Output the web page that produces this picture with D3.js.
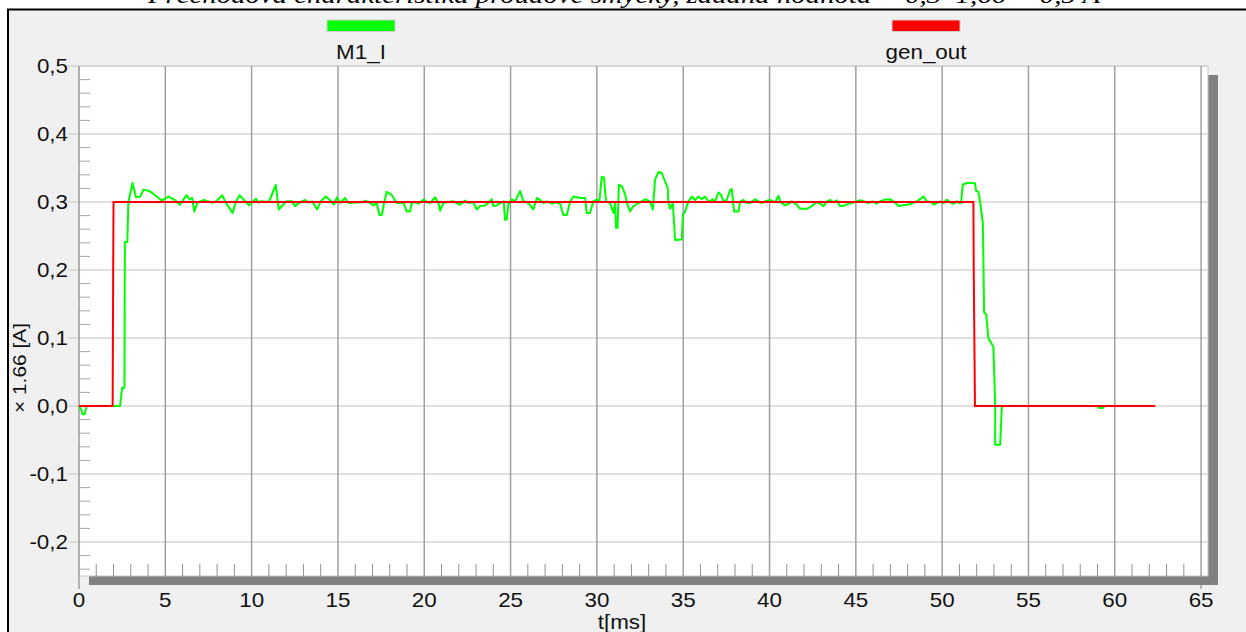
<!DOCTYPE html>
<html>
<head>
<meta charset="utf-8">
<script src="https://cdn.jsdelivr.net/npm/d3@7/dist/d3.min.js"></script>
<style>
  html, body { margin: 0; padding: 0; background: #ffffff; }
  svg { display: block; }
  text { font-family: "Liberation Sans", Arial, sans-serif; fill: #111; }
</style>
</head>
<body>
<svg id="chart" width="1246" height="632"></svg>
<script>
// Step response of the current loop: measured current M1_I and generator reference gen_out
const titleText = "Přechodová charakteristika proudové smyčky, žádaná hodnota = 0,3*1,66 = 0,5 A";
const seriesNames = ["M1_I", "gen_out"];
const seriesColors = ["#00ff00", "#ff0000"];

// time [ms]
const m1Time = [0,0.12,0.2,0.32,0.45,2.38,2.5,2.63,2.66,2.8,2.86,3.1,3.3,3.55,3.73,4.1,4.5,4.8,5.17,5.55,5.84,6.22,6.4,6.55,6.68,6.86,7.25,7.45,7.7,7.95,8.3,8.5,8.9,9.1,9.3,9.55,9.85,10.25,10.4,10.55,11.0,11.4,11.57,12.0,12.33,12.5,12.9,13.1,13.3,13.5,13.8,14.0,14.3,14.6,14.76,14.95,15.12,15.41,15.6,16.38,16.57,16.86,17.05,17.25,17.4,17.55,17.65,17.82,18.1,18.4,18.8,18.99,19.18,19.27,19.47,19.66,19.95,20.15,20.34,20.63,20.82,20.92,21.1,21.3,21.69,21.88,22.07,22.36,22.55,22.84,23.04,23.23,23.52,23.71,23.91,24.0,24.2,24.4,24.6,24.68,24.78,24.87,25.07,25.26,25.55,25.74,26.03,26.32,26.52,26.71,26.9,27.1,27.4,27.58,27.87,28.06,28.26,28.45,28.64,29.03,29.32,29.41,29.6,29.8,29.99,30.14,30.28,30.41,30.53,30.76,30.96,31.05,31.11,31.2,31.27,31.45,31.64,31.74,31.92,32.12,32.41,32.6,32.8,33.08,33.24,33.37,33.56,33.75,33.95,34.1,34.14,34.24,34.4,34.53,34.92,34.98,35.11,35.3,35.5,35.69,35.88,36.07,36.27,36.46,36.56,36.71,36.85,37.04,37.18,37.33,37.52,37.72,37.81,37.95,38.2,38.3,38.49,38.68,38.88,39.16,39.36,39.55,39.74,40.03,40.32,40.52,40.65,40.9,41.19,41.29,41.58,41.77,42.16,42.45,42.64,42.84,43.13,43.32,43.52,43.71,43.9,44.09,44.38,44.57,44.77,45.06,45.25,45.44,45.73,45.98,46.21,46.41,46.7,46.99,47.18,47.47,47.66,47.95,48.24,48.53,48.92,49.11,49.4,49.5,49.69,49.88,50.08,50.27,50.46,50.66,50.85,50.99,51.1,51.19,51.42,51.67,51.9,51.97,52.1,52.2,52.36,52.43,52.55,52.68,52.82,52.97,53.07,53.07,53.36,53.46,59.0,59.1,59.3,59.4,62.34];
// measured current (scaled by 1.66 on the axis)
const m1Current = [0,-0.005,-0.012,-0.012,0,0,0.027,0.027,0.241,0.241,0.3,0.328,0.307,0.308,0.318,0.316,0.308,0.302,0.308,0.303,0.296,0.31,0.304,0.306,0.286,0.299,0.303,0.301,0.299,0.301,0.31,0.299,0.284,0.301,0.31,0.303,0.295,0.305,0.299,0.301,0.3,0.325,0.289,0.301,0.301,0.294,0.301,0.303,0.299,0.301,0.289,0.301,0.308,0.301,0.296,0.307,0.2985,0.306,0.2985,0.2995,0.302,0.2985,0.295,0.2985,0.281,0.281,0.296,0.315,0.311,0.2985,0.2985,0.286,0.286,0.2985,0.3,0.2975,0.3035,0.3,0.2985,0.307,0.2985,0.287,0.2985,0.2995,0.301,0.2985,0.296,0.302,0.2985,0.2995,0.289,0.294,0.295,0.2985,0.304,0.294,0.295,0.2985,0.301,0.274,0.274,0.296,0.304,0.301,0.316,0.301,0.2985,0.289,0.306,0.303,0.2985,0.301,0.2975,0.2995,0.2975,0.281,0.281,0.301,0.308,0.306,0.306,0.284,0.284,0.301,0.3035,0.301,0.337,0.336,0.301,0.2985,0.284,0.2985,0.262,0.262,0.3255,0.323,0.311,0.2985,0.286,0.294,0.2985,0.301,0.304,0.301,0.289,0.333,0.344,0.343,0.33,0.321,0.3,0.29,0.2985,0.244,0.245,0.281,0.286,0.301,0.308,0.303,0.308,0.304,0.308,0.301,0.301,0.304,0.301,0.314,0.311,0.301,0.303,0.318,0.319,0.286,0.286,0.301,0.303,0.2985,0.2985,0.304,0.301,0.2985,0.301,0.303,0.2995,0.309,0.2995,0.295,0.2985,0.301,0.296,0.29,0.29,0.294,0.2985,0.2995,0.294,0.301,0.303,0.2995,0.3025,0.294,0.295,0.2975,0.2985,0.301,0.3025,0.301,0.2985,0.301,0.2975,0.301,0.3035,0.304,0.301,0.294,0.295,0.296,0.2975,0.301,0.308,0.301,0.2995,0.296,0.2985,0.301,0.2985,0.3035,0.2995,0.2975,0.301,0.2985,0.299,0.3255,0.328,0.328,0.3275,0.316,0.315,0.3,0.268,0.138,0.135,0.099,0.094,0.0865,0.003,-0.057,-0.057,0,0,-0.003,-0.003,0,0];

// generator reference
const genTime = [0,1.95,1.98,2.0,51.81,51.83,51.9,62.34];
const genOut = [0,0,0.2,0.3,0.3,0.2,0,0];

const xMajorTicks = [0,5,10,15,20,25,30,35,40,45,50,55,60,65];
const yMajorTicks = [-0.2,-0.1,0.0,0.1,0.2,0.3,0.4,0.5];
const xLabel = "t[ms]";
const yLabel = "× 1.66 [A]";

const svg = d3.select("#chart");
const W = 1246, H = 632;
const plot = { left: 79, top: 66, right: 1208, bottom: 576 };
const WIDE = 1.12; // horizontal stretch of the UI font

const x = d3.scaleLinear().domain([0, 65.4]).range([plot.left, plot.right]);
const y = d3.scaleLinear().domain([-0.25, 0.5]).range([plot.bottom, plot.top]);
const fmt = v => d3.format(".1f")(v).replace(".", ",").replace("−", "-");
const place = (px, py) => `translate(${px},${py}) scale(${WIDE},1)`;

// title, clipped by the window top
svg.append("text")
  .attr("x", 624).attr("y", 3)
  .attr("text-anchor", "middle")
  .attr("textLength", 952).attr("lengthAdjust", "spacingAndGlyphs")
  .style("font-family", "'Liberation Serif', 'Times New Roman', serif")
  .style("font-style", "italic")
  .style("font-size", "24px")
  .style("fill", "#000")
  .text(titleText);

// window frame
svg.append("rect")
  .attr("x", 8).attr("y", 9.5).attr("width", W).attr("height", H)
  .attr("fill", "#f0f0f0").attr("stroke", "#000").attr("stroke-width", 2);

// legend
const legendX = [361, 926];
seriesNames.forEach((name, i) => {
  svg.append("rect")
    .attr("x", legendX[i] - 34).attr("y", 20).attr("width", 68).attr("height", 11.5)
    .attr("fill", seriesColors[i]).attr("stroke", "#d0d0d0").attr("stroke-width", 1);
  svg.append("text")
    .attr("transform", place(legendX[i], 58.5))
    .attr("text-anchor", "middle")
    .style("font-size", "20px")
    .text(name);
});

// drop shadow behind the plot box
svg.append("rect")
  .attr("x", plot.left + 10).attr("y", plot.top + 9)
  .attr("width", plot.right - plot.left).attr("height", plot.bottom - plot.top)
  .attr("fill", "#808080");

// plot area
svg.append("rect")
  .attr("x", plot.left).attr("y", plot.top)
  .attr("width", plot.right - plot.left).attr("height", plot.bottom - plot.top)
  .attr("fill", "#ffffff").attr("stroke", "#c8c8c8").attr("stroke-width", 1);

const g = svg.append("g");

// horizontal grid (reaching out past the axis as major ticks)
g.selectAll("line.hgrid").data(yMajorTicks).enter().append("line")
  .attr("x1", 68).attr("x2", plot.right)
  .attr("y1", d => y(d)).attr("y2", d => y(d))
  .attr("stroke", "#d4d4d4").attr("stroke-width", 1.5);

// minor y ticks
const yMinor = d3.range(-12, 25).map(i => i * 0.02).filter(v => Math.abs(Math.round(v * 10) - v * 10) > 1e-6);
g.selectAll("line.ymin").data(yMinor).enter().append("line")
  .attr("x1", plot.left).attr("x2", plot.left + 11)
  .attr("y1", d => y(d)).attr("y2", d => y(d))
  .attr("stroke", "#a8a8a8").attr("stroke-width", 1);

// vertical grid
g.selectAll("line.vgrid").data(xMajorTicks.filter(d => d > 0)).enter().append("line")
  .attr("x1", d => x(d)).attr("x2", d => x(d))
  .attr("y1", plot.top).attr("y2", plot.bottom)
  .attr("stroke", "#a0a0a0").attr("stroke-width", 1.5);

// minor x ticks
const xMinor = d3.range(1, 65).filter(v => v % 5 !== 0);
g.selectAll("line.xmin").data(xMinor).enter().append("line")
  .attr("x1", d => x(d)).attr("x2", d => x(d))
  .attr("y1", plot.bottom - 12).attr("y2", plot.bottom)
  .attr("stroke", "#909090").attr("stroke-width", 1);

// y axis line down past the shadow bar
g.append("line")
  .attr("x1", x(0)).attr("x2", x(0))
  .attr("y1", plot.top).attr("y2", 589)
  .attr("stroke", "#a0a0a0").attr("stroke-width", 1.5);
g.append("line")
  .attr("x1", x(65)).attr("x2", x(65))
  .attr("y1", plot.bottom + 9).attr("y2", 589)
  .attr("stroke", "#a0a0a0").attr("stroke-width", 1.5);

// series: measured current under the reference step
const m1Data = m1Time.map((t, i) => [t, m1Current[i]]);
const genData = genTime.map((t, i) => [t, genOut[i]]);
const line = d3.line().x(d => x(d[0])).y(d => y(d[1]));

g.append("path").datum(m1Data)
  .attr("d", line)
  .attr("fill", "none").attr("stroke", seriesColors[0])
  .attr("stroke-width", 2).attr("stroke-linejoin", "round");

g.append("path").datum(genData)
  .attr("d", line)
  .attr("fill", "none").attr("stroke", seriesColors[1])
  .attr("stroke-width", 2);

// tick labels
g.selectAll("text.ylab").data(yMajorTicks).enter().append("text")
  .attr("transform", d => place(68, y(d) + 7))
  .attr("text-anchor", "end")
  .style("font-size", "20px")
  .text(d => fmt(d));

g.selectAll("text.xlab").data(xMajorTicks).enter().append("text")
  .attr("transform", d => place(x(d), 607))
  .attr("text-anchor", "middle")
  .style("font-size", "20px")
  .text(d => d);

// axis titles
svg.append("text")
  .attr("transform", place(622, 629))
  .attr("text-anchor", "middle")
  .style("font-size", "20px")
  .text(xLabel);

svg.append("text")
  .attr("transform", "translate(26,368) rotate(-90) scale(1.1,1)")
  .attr("text-anchor", "middle")
  .style("font-size", "19px")
  .text(yLabel);
</script>
</body>
</html>
